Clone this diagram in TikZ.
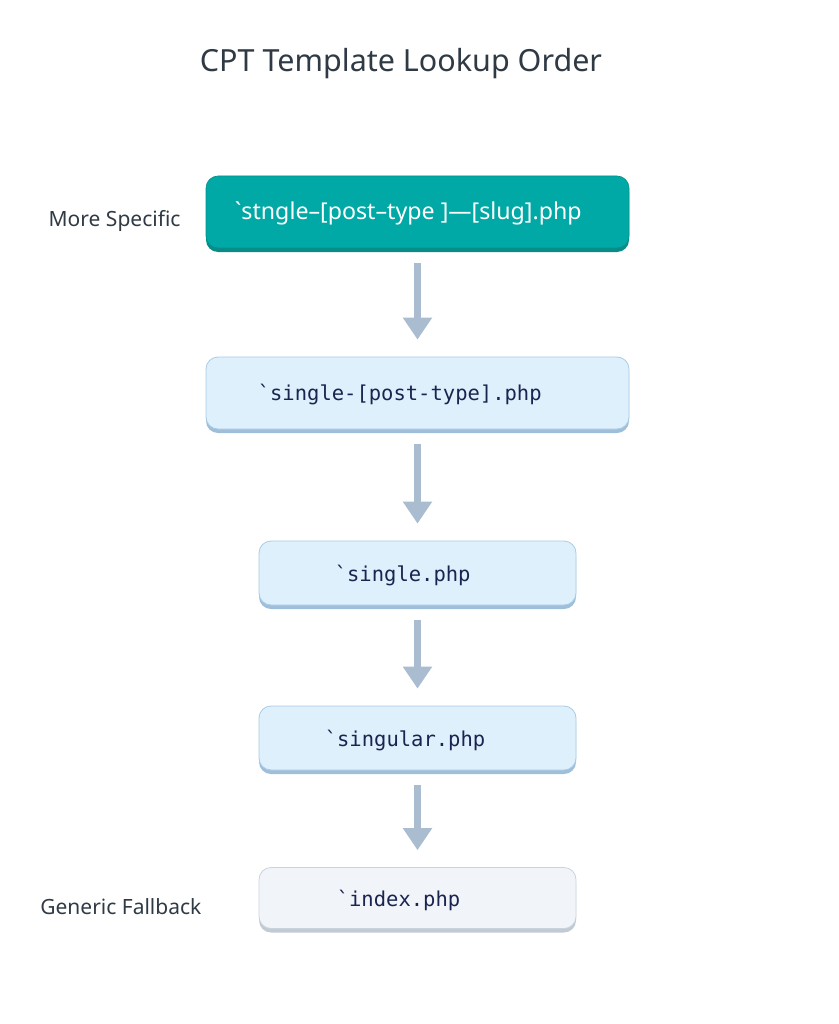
\documentclass[tikz,border=0pt]{standalone}
\usepackage{fontspec}
\setmainfont{Noto Sans}
\setmonofont{DejaVu Sans Mono}
\newfontfamily\slugfont{Noto Sans}[Ligatures=TeXOff]
\usetikzlibrary{arrows.meta,positioning,shadows}

\definecolor{tealfill}{HTML}{00A9A5}
\definecolor{tealshade}{HTML}{0B8B87}
\definecolor{bluefill}{HTML}{DEF0FC}
\definecolor{blueline}{HTML}{A9CBE6}
\definecolor{blueshade}{HTML}{9FBEDA}
\definecolor{greyfill}{HTML}{F1F5F9}
\definecolor{greyline}{HTML}{C9D3DD}
\definecolor{greyshade}{HTML}{C2CBD4}
\definecolor{navytext}{HTML}{1B2450}
\definecolor{labeltext}{HTML}{2F3A45}
\definecolor{arrowcol}{HTML}{A9BCD0}

\tikzset{
  tmpl/.style={rectangle, rounded corners=12pt, inner sep=0pt},
  hot/.style={tmpl, fill=tealfill, draw=tealfill!85!black, line width=0.6pt,
    drop shadow={shadow xshift=0pt, shadow yshift=-4pt, opacity=1, fill=tealshade}},
  cold/.style={tmpl, fill=bluefill, draw=blueline, line width=0.8pt,
    drop shadow={shadow xshift=0pt, shadow yshift=-4pt, opacity=1, fill=blueshade}},
  last/.style={tmpl, fill=greyfill, draw=greyline, line width=0.8pt,
    drop shadow={shadow xshift=0pt, shadow yshift=-4pt, opacity=1, fill=greyshade}},
  fname/.style={anchor=west, inner sep=0pt, text=navytext, yshift=-2pt,
    font=\ttfamily\fontsize{20.5}{24}\selectfont},
  side/.style={inner sep=0pt, text=labeltext, yshift=-9pt,
    font=\fontsize{21}{25}\selectfont},
  flow/.style={draw=arrowcol, line width=7pt,
    -{Triangle[width=28pt,length=22pt]}, shorten <=15pt, shorten >=17pt}
}

\begin{document}
\begin{tikzpicture}[x=1pt, y=-1pt]
  \useasboundingbox (0,0) rectangle (838,1024);

  \node[text=labeltext, font=\fontsize{30.5}{36}\selectfont] (title) at (401,64) {CPT Template Lookup Order};

  \node[hot,  minimum width=423pt, minimum height=72pt] (slug)     at (417.5,212) {};
  \node[cold, minimum width=423pt, minimum height=72pt] (posttype) at (417.5,393) {};
  \node[cold, minimum width=317pt, minimum height=64pt] (single)   at (417.5,573) {};
  \node[cold, minimum width=317pt, minimum height=64pt] (singular) at (417.5,738) {};
  \node[last, minimum width=317pt, minimum height=61pt] (index)    at (417.5,898) {};

  \node[anchor=west, inner sep=0pt, text=white, yshift=-1pt, font=\slugfont\fontsize{23.2}{27}\selectfont]
    (slugtext) at ([xshift=29pt]slug.west) {`stngle–[post–type ]—[slug].php};
  \node[fname] (posttypetext) at ([xshift=52pt]posttype.west) {`single-[post-type].php};
  \node[fname] (singletext)   at ([xshift=76pt]single.west)   {`single.php};
  \node[fname] (singulartext) at ([xshift=66pt]singular.west) {`singular.php};
  \node[fname] (indextext)    at ([xshift=78pt]index.west)    {`index.php};

  \node[side] (specific) [left=25pt of slug]   {More Specific};
  \node[side] (generic)  [left=57pt of index]  {Generic Fallback};

  \draw[flow] (slug.south)     -- (posttype.north);
  \draw[flow] (posttype.south) -- (single.north);
  \draw[flow] (single.south)   -- (singular.north);
  \draw[flow] (singular.south) -- (index.north);
\end{tikzpicture}
\end{document}
